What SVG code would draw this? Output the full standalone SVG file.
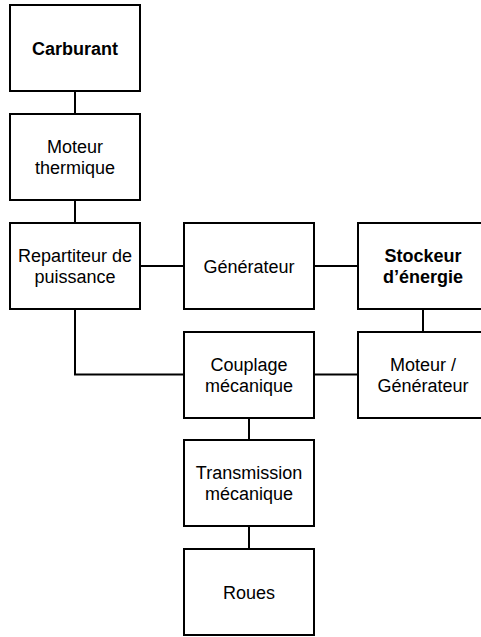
<svg xmlns="http://www.w3.org/2000/svg" width="481" height="637" viewBox="0 0 481 637">
<style>
.box{fill:#fff;stroke:#000;stroke-width:2}
.c{fill:none;stroke:#000;stroke-width:2}
text{font-family:"Liberation Sans",Arial,sans-serif;font-size:18px;fill:#000;text-anchor:middle}
.b{font-weight:bold}
</style>
<rect width="481" height="637" fill="#fff"/>
<g id="connectors">
<line class="c" x1="75" y1="91" x2="75" y2="114"/>
<line class="c" x1="75" y1="200" x2="75" y2="223"/>
<line class="c" x1="140" y1="266" x2="184" y2="266"/>
<line class="c" x1="314" y1="266" x2="358" y2="266"/>
<line class="c" x1="423" y1="309" x2="423" y2="332"/>
<polyline class="c" points="75,309 75,374.5 184,374.5"/>
<line class="c" x1="314" y1="374.5" x2="358" y2="374.5"/>
<line class="c" x1="249" y1="418" x2="249" y2="440"/>
<line class="c" x1="249" y1="526" x2="249" y2="549"/>
</g>
<g id="carburant"><rect class="box" x="10" y="5" width="130" height="86"/><text class="b" x="75" y="54.5">Carburant</text></g>
<g id="moteur-thermique"><rect class="box" x="10" y="114" width="130" height="86"/><text x="75" y="152.5">Moteur</text><text x="75" y="173.5">thermique</text></g>
<g id="repartiteur"><rect class="box" x="10" y="223" width="130" height="86"/><text x="75" y="262">Repartiteur de</text><text x="75" y="283">puissance</text></g>
<g id="generateur"><rect class="box" x="184" y="223" width="130" height="86"/><text x="249" y="272.5">Générateur</text></g>
<g id="stockeur"><rect class="box" x="358" y="223" width="130" height="86"/><text class="b" x="423" y="262">Stockeur</text><text class="b" x="423" y="283">d’énergie</text></g>
<g id="couplage"><rect class="box" x="184" y="332" width="130" height="86"/><text x="249" y="370.5">Couplage</text><text x="249" y="391.5">mécanique</text></g>
<g id="moteur-generateur"><rect class="box" x="358" y="332" width="130" height="86"/><text x="423" y="370.5">Moteur /</text><text x="423" y="391.5">Générateur</text></g>
<g id="transmission"><rect class="box" x="184" y="440" width="130" height="86"/><text x="249" y="478.5">Transmission</text><text x="249" y="499.5">mécanique</text></g>
<g id="roues"><rect class="box" x="184" y="549" width="130" height="86"/><text x="249" y="598.5">Roues</text></g>
</svg>
